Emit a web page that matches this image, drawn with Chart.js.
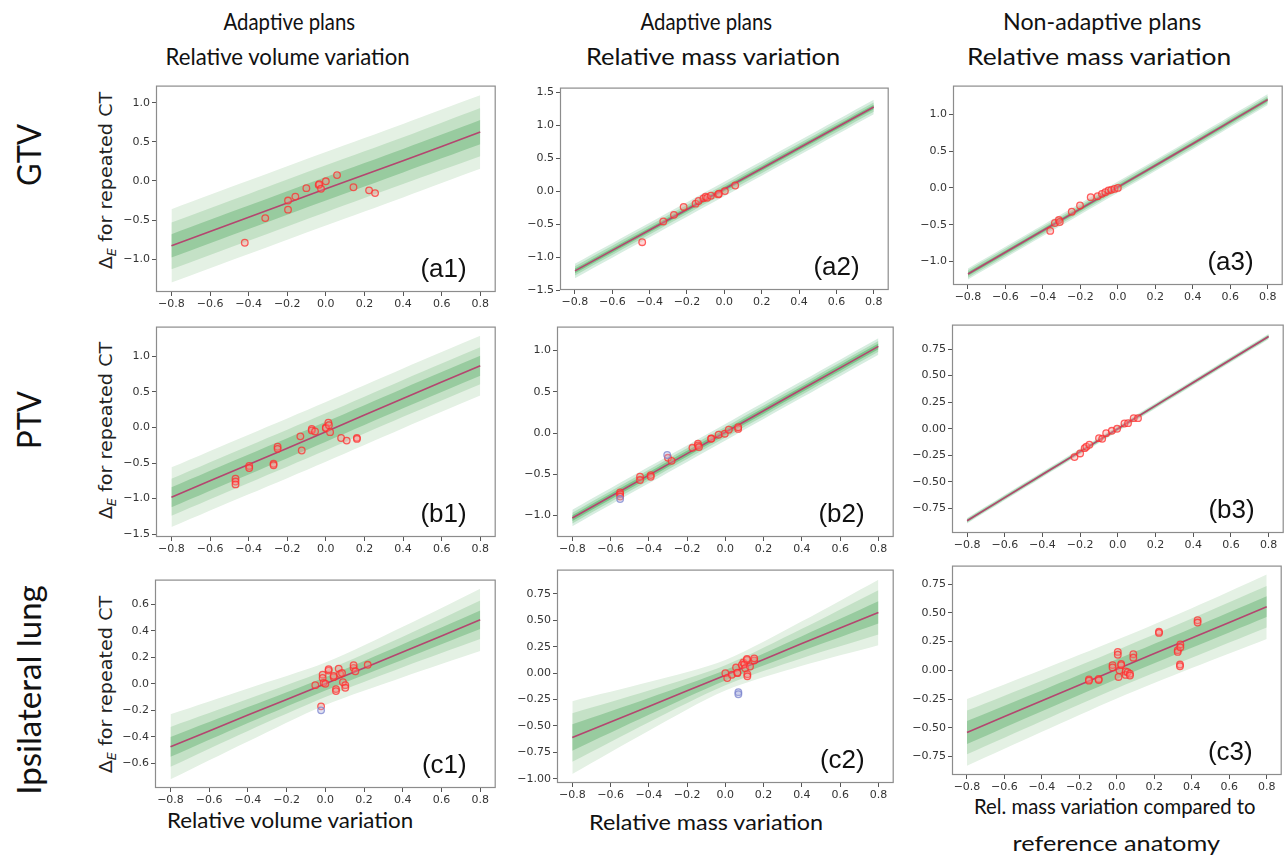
<!DOCTYPE html>
<html><head><meta charset="utf-8">
<script src="https://cdn.jsdelivr.net/npm/chart.js@4.4.1/dist/chart.umd.min.js"></script>
<style>
html,body{margin:0;padding:0;background:#fff;}
body{width:1287px;height:859px;position:relative;overflow:hidden;}
.t{position:absolute;white-space:nowrap;color:#111;font-family:Lato,"Noto Sans",sans-serif;line-height:1;}
.yt{position:absolute;white-space:nowrap;color:#222;font-family:"DejaVu Sans",sans-serif;font-size:18px;line-height:1;}
.yt sub{font-size:12px;font-style:italic;vertical-align:-4px;}
canvas{position:absolute;}
</style></head><body>
<script>
// ---------- shared ----------
const xTicks = [-0.8,-0.6,-0.4,-0.2,0,0.2,0.4,0.6,0.8];
const bandX = [-0.8,-0.4,0,0.4,0.8];

// ---------- (a1) GTV, adaptive, volume ----------
const a1YTicks = [-1.0,-0.5,0,0.5,1.0];
const a1Fit = [-0.83,-0.465,-0.10,0.26,0.625];
const a1Inner = [0.15,0.15,0.15,0.15,0.155];
const a1Mid = [0.30,0.30,0.30,0.30,0.31];
const a1Outer = [0.47,0.47,0.47,0.47,0.47];
const a1X = [-0.42,-0.314,-0.196,-0.196,-0.158,-0.101,-0.037,-0.034,-0.025,0.0,0.058,0.143,0.224,0.255];
const a1Y = [-0.79,-0.475,-0.25,-0.367,-0.20,-0.092,-0.05,-0.042,-0.10,-0.004,0.075,-0.08,-0.12,-0.155];

// ---------- (a2) GTV, adaptive, mass ----------
const a2YTicks = [-1.5,-1.0,-0.5,0,0.5,1.0,1.5];
const a2Fit = [-1.21,-0.589,0.032,0.653,1.275];
const a2Inner = [0.035,0.035,0.035,0.035,0.035];
const a2Mid = [0.07,0.07,0.07,0.07,0.07];
const a2Outer = [0.11,0.11,0.11,0.11,0.11];
const a2X = [-0.44,-0.327,-0.27,-0.218,-0.154,-0.138,-0.112,-0.10,-0.092,-0.072,-0.033,-0.029,0.003,0.058];
const a2Y = [-0.775,-0.46,-0.36,-0.24,-0.19,-0.15,-0.11,-0.085,-0.10,-0.07,-0.05,-0.04,0.0,0.085];

// ---------- (a3) GTV, non-adaptive, mass ----------
const a3YTicks = [-1.0,-0.5,0,0.5,1.0];
const a3Fit = [-1.17,-0.58,0.01,0.60,1.20];
const a3Inner = [0.025,0.025,0.025,0.025,0.025];
const a3Mid = [0.05,0.05,0.05,0.05,0.05];
const a3Outer = [0.075,0.075,0.075,0.075,0.075];
const a3X = [-0.361,-0.336,-0.315,-0.31,-0.246,-0.202,-0.145,-0.108,-0.085,-0.067,-0.05,-0.035,-0.018,0.0];
const a3Y = [-0.585,-0.477,-0.437,-0.464,-0.324,-0.239,-0.126,-0.113,-0.081,-0.059,-0.036,-0.027,-0.014,0.0];

// ---------- (b1) PTV, adaptive, volume ----------
const b1YTicks = [-1.5,-1.0,-0.5,0,0.5,1.0];
const b1Fit = [-0.98,-0.52,-0.06,0.41,0.87];
const b1Inner = [0.14,0.14,0.14,0.14,0.14];
const b1Mid = [0.26,0.26,0.26,0.26,0.26];
const b1Outer = [0.42,0.42,0.42,0.42,0.42];
const b1X = [-0.468,-0.468,-0.468,-0.397,-0.397,-0.271,-0.271,-0.25,-0.25,-0.132,-0.125,-0.073,-0.073,-0.056,0.0,0.0,0.013,0.016,0.022,0.079,0.108,0.161,0.161];
const b1Y = [-0.72,-0.76,-0.80,-0.54,-0.57,-0.51,-0.53,-0.27,-0.30,-0.124,-0.323,-0.02,-0.04,-0.055,0.0,-0.01,0.069,0.032,-0.065,-0.147,-0.184,-0.145,-0.16];

// ---------- (b2) PTV, adaptive, mass ----------
const b2YTicks = [-1.0,-0.5,0,0.5,1.0];
const b2Fit = [-1.03,-0.51,0.01,0.53,1.05];
const b2Inner = [0.035,0.035,0.035,0.035,0.035];
const b2Mid = [0.065,0.065,0.065,0.065,0.065];
const b2Outer = [0.10,0.10,0.10,0.10,0.10];
const b2X = [-0.55,-0.55,-0.55,-0.446,-0.446,-0.39,-0.39,-0.30,-0.281,-0.172,-0.143,-0.143,-0.138,-0.074,-0.074,-0.035,-0.003,0.018,0.067,0.067];
const b2Y = [-0.72,-0.74,-0.77,-0.53,-0.57,-0.51,-0.53,-0.30,-0.337,-0.179,-0.13,-0.15,-0.17,-0.065,-0.07,-0.02,-0.008,0.04,0.05,0.07];
const b2BlueX = [-0.55,-0.304];
const b2BlueY = [-0.80,-0.266];

// ---------- (b3) PTV, non-adaptive, mass ----------
const b3YTicks = [-0.75,-0.5,-0.25,0,0.25,0.5,0.75];
const b3Fit = [-0.865,-0.43,0.0,0.435,0.868];
const b3Inner = [0.01,0.01,0.01,0.01,0.01];
const b3Mid = [0.018,0.018,0.018,0.018,0.018];
const b3Outer = [0.026,0.026,0.026,0.026,0.026];
const b3X = [-0.23,-0.20,-0.176,-0.167,-0.151,-0.10,-0.083,-0.062,-0.032,-0.004,0.035,0.054,0.084,0.107];
const b3Y = [-0.266,-0.232,-0.182,-0.169,-0.15,-0.088,-0.094,-0.041,-0.019,0.0,0.05,0.053,0.10,0.10];

// ---------- (c1) lung, adaptive, volume ----------
const c1YTicks = [-0.6,-0.4,-0.2,0,0.2,0.4,0.6];
const c1Fit = [-0.475,-0.235,0.0,0.24,0.482];
const c1Inner = [0.075,0.06,0.05,0.058,0.07];
const c1Mid = [0.15,0.12,0.10,0.115,0.145];
const c1Outer = [0.245,0.20,0.16,0.19,0.235];
const c1X = [-0.052,-0.014,-0.014,-0.009,0.0,0.017,0.017,0.043,0.043,0.055,0.055,0.069,0.076,0.086,0.091,0.103,0.103,0.146,0.146,0.155,0.219,-0.022];
const c1Y = [-0.01,0.069,0.044,0.007,0.0,0.10,0.11,0.05,0.06,-0.04,-0.055,0.114,0.074,0.081,0.012,-0.01,-0.03,0.12,0.14,0.094,0.143,-0.17];
const c1BlueX = [-0.022];
const c1BlueY = [-0.20];

// ---------- (c2) lung, adaptive, mass ----------
const c2YTicks = [-1.0,-0.75,-0.5,-0.25,0,0.25,0.5,0.75];
const c2Fit = [-0.61,-0.315,-0.02,0.28,0.575];
const c2Inner = [0.125,0.08,0.05,0.07,0.105];
const c2Mid = [0.23,0.15,0.095,0.14,0.21];
const c2Outer = [0.345,0.23,0.145,0.21,0.31];
const c2X = [0.0,0.01,0.034,0.056,0.063,0.063,0.086,0.094,0.10,0.104,0.113,0.113,0.115,0.115,0.129,0.151,0.151];
const c2Y = [0.0,-0.047,-0.016,0.053,0.0,0.005,0.078,0.10,0.084,0.047,0.125,0.135,-0.01,-0.03,0.063,0.12,0.14];
const c2BlueX = [0.068,0.068];
const c2BlueY = [-0.18,-0.20];

// ---------- (c3) lung, non-adaptive, mass ----------
const c3YTicks = [-0.75,-0.5,-0.25,0,0.25,0.5,0.75];
const c3Fit = [-0.54,-0.265,0.01,0.28,0.553];
const c3Inner = [0.10,0.09,0.085,0.085,0.09];
const c3Mid = [0.19,0.175,0.165,0.17,0.18];
const c3Outer = [0.29,0.27,0.255,0.26,0.28];
const c3X = [-0.149,-0.149,-0.097,-0.097,0.005,0.005,-0.023,-0.023,0.009,0.014,0.023,0.023,0.047,0.047,0.058,0.07,0.07,0.088,0.088,0.225,0.225,0.325,0.325,0.339,0.339,0.337,0.337,0.431,0.431];
const c3Y = [-0.08,-0.09,-0.075,-0.085,0.16,0.135,0.045,0.025,-0.058,0.0,0.055,0.045,-0.01,-0.04,-0.017,-0.03,-0.045,0.14,0.11,0.335,0.325,0.175,0.16,0.225,0.20,0.05,0.035,0.435,0.415];
</script>

<div class="t" data-cx="289" data-cy="21" data-w="132" style="font-size:23px">Adaptive plans</div>
<div class="t" data-cx="287" data-cy="56" data-w="244" style="font-size:23px">Relative volume variation</div>
<div class="t" data-cx="706" data-cy="21" data-w="132" style="font-size:23px">Adaptive plans</div>
<div class="t" data-cx="713" data-cy="56" data-w="254" style="font-size:23px">Relative mass variation</div>
<div class="t" data-cx="1102" data-cy="21" data-w="198" style="font-size:23px">Non-adaptive plans</div>
<div class="t" data-cx="1099" data-cy="56" data-w="264" style="font-size:23px">Relative mass variation</div>

<div class="t" data-cx="29" data-cy="155" data-w="62" data-r="-90" style="font-size:32px">GTV</div>
<div class="t" data-cx="29" data-cy="420" data-w="58" data-r="-90" style="font-size:32px">PTV</div>
<div class="t" data-cx="29" data-cy="690" data-w="210" data-r="-90" style="font-size:32px">Ipsilateral lung</div>

<div class="yt" data-cx="107" data-cy="180" data-w="178" data-r="-90">Δ<sub>E</sub> for repeated CT</div>
<div class="yt" data-cx="107" data-cy="430" data-w="178" data-r="-90">Δ<sub>E</sub> for repeated CT</div>
<div class="yt" data-cx="107" data-cy="684" data-w="178" data-r="-90">Δ<sub>E</sub> for repeated CT</div>

<div class="t" data-cx="290" data-cy="820" data-w="246" style="font-size:22px">Relative volume variation</div>
<div class="t" data-cx="706" data-cy="822" data-w="234" style="font-size:22px">Relative mass variation</div>
<div class="t" data-cx="1115" data-cy="806" data-w="282" style="font-size:22px">Rel. mass variation compared to</div>
<div class="t" data-cx="1116" data-cy="843" data-w="208" style="font-size:22px">reference anatomy</div>

<script>
function fitTexts(){
  document.querySelectorAll('[data-cx]').forEach(el=>{
    const cx=+el.dataset.cx, cy=+el.dataset.cy, w=+el.dataset.w, r=+(el.dataset.r||0);
    el.style.transform='none';
    const ow=el.offsetWidth, oh=el.offsetHeight;
    const s=w/ow;
    el.style.left=(cx-ow/2)+'px';
    el.style.top=(cy-oh/2)+'px';
    el.style.transformOrigin='50% 50%';
    el.style.transform=(r?'rotate('+r+'deg) ':'')+'scaleX('+s+')';
  });
}
fitTexts();

function fmt(v,dec){
  const s=Math.abs(v).toFixed(dec);
  return (v<-1e-9?'\u2212':'')+s;
}

const framePlugin={
  id:'frame',
  afterDraw(chart){
    const a=chart.chartArea, c=chart.ctx;
    c.save();
    c.strokeStyle='#8c8c8c'; c.lineWidth=1.2;
    c.strokeRect(a.left+0.5,a.top+0.5,a.right-a.left-1,a.bottom-a.top-1);
    const lbl=chart.options.plugins.frame.label;
    c.fillStyle='#111';
    c.font='26px "Liberation Sans", Arial, sans-serif';
    c.textAlign='right'; c.textBaseline='alphabetic';
    c.fillText(lbl,a.right-29,a.bottom-15);
    c.restore();
  }
};

const COLORS={
  wide:{outer:'#e4f1e4',mid:'#c4e1c6',inner:'#98cb9f'},
  thin:{outer:'#d7ede0',mid:'#b0dcba',inner:'#7cc48b'}
};

function band(fit,hw,sign){ return bandX.map((x,i)=>({x:x,y:fit[i]+sign*hw[i]})); }
function pts(xs,ys){ return xs.map((x,i)=>({x:x,y:ys[i]})); }

function makePanel(p){
  const PADT=6, PADR=4, YW=44, XH=24;
  const cv=document.createElement('canvas');
  const w=p.box[2]-p.box[0]+YW+PADR, h=p.box[3]-p.box[1]+PADT+XH;
  cv.width=w; cv.height=h;
  cv.style.left=(p.box[0]-YW)+'px'; cv.style.top=(p.box[1]-PADT)+'px';
  cv.style.width=w+'px'; cv.style.height=h+'px';
  document.body.appendChild(cv);
  const col=COLORS[p.style];
  const lineDs=(data,o,extra)=>Object.assign({type:'line',data:data,pointRadius:0,borderWidth:0,tension:0.3,order:o,fill:false,borderColor:'rgba(0,0,0,0)'},extra||{});
  const ds=[
    lineDs(band(p.fit,p.outer,1),40,{fill:'+1',backgroundColor:col.outer}),
    lineDs(band(p.fit,p.outer,-1),41),
    lineDs(band(p.fit,p.mid,1),30,{fill:'+1',backgroundColor:col.mid}),
    lineDs(band(p.fit,p.mid,-1),31),
    lineDs(band(p.fit,p.inner,1),20,{fill:'+1',backgroundColor:col.inner}),
    lineDs(band(p.fit,p.inner,-1),21),
    lineDs(bandX.map((x,i)=>({x:x,y:p.fit[i]})),10,{borderWidth:1.6,borderColor:'#b4466f'}),
    {type:'scatter',data:pts(p.px,p.py),order:1,pointRadius:3.3,borderWidth:1.3,
     borderColor:'rgba(255,45,45,0.75)',backgroundColor:'rgba(255,140,140,0.35)'}
  ];
  if(p.bx) ds.push({type:'scatter',data:pts(p.bx,p.by),order:0,pointRadius:3.3,borderWidth:1.3,
     borderColor:'rgba(120,130,205,0.75)',backgroundColor:'rgba(170,175,220,0.35)'});
  new Chart(cv,{
    data:{datasets:ds},
    options:{
      responsive:false,animation:false,devicePixelRatio:1,
      layout:{padding:{top:PADT,right:PADR,left:0,bottom:0}},
      plugins:{legend:{display:false},tooltip:{enabled:false},frame:{label:p.label}},
      scales:{
        x:{type:'linear',min:-0.88,max:0.88,
           afterFit:s=>{s.height=XH;},
           afterBuildTicks:s=>{s.ticks=xTicks.map(v=>({value:v}));},
           ticks:{font:{family:'DejaVu Sans',size:11},color:'#333',padding:2,maxRotation:0,autoSkip:false,callback:v=>fmt(v,1)},
           grid:{drawOnChartArea:false,drawTicks:true,tickLength:4,color:'#555'},border:{display:false}},
        y:{type:'linear',min:p.ymin,max:p.ymax,
           afterFit:s=>{s.width=YW;},
           afterBuildTicks:s=>{s.ticks=p.yticks.map(v=>({value:v}));},
           ticks:{font:{family:'DejaVu Sans',size:11},color:'#333',padding:2,autoSkip:false,callback:v=>fmt(v,p.dec)},
           grid:{drawOnChartArea:false,drawTicks:true,tickLength:4,color:'#555'},border:{display:false}}
      }
    },
    plugins:[framePlugin]
  });
}

const panels=[
  {label:'(a1)',box:[156,83,497,292],ymin:-1.42,ymax:1.22,yticks:a1YTicks,dec:1,fit:a1Fit,inner:a1Inner,mid:a1Mid,outer:a1Outer,px:a1X,py:a1Y,style:'wide'},
  {label:'(a2)',box:[560,85,890,290],ymin:-1.5,ymax:1.57,yticks:a2YTicks,dec:1,fit:a2Fit,inner:a2Inner,mid:a2Mid,outer:a2Outer,px:a2X,py:a2Y,style:'thin'},
  {label:'(a3)',box:[953,83,1284,285],ymin:-1.32,ymax:1.39,yticks:a3YTicks,dec:1,fit:a3Fit,inner:a3Inner,mid:a3Mid,outer:a3Outer,px:a3X,py:a3Y,style:'thin'},
  {label:'(b1)',box:[156,324,497,537],ymin:-1.54,ymax:1.42,yticks:b1YTicks,dec:1,fit:b1Fit,inner:b1Inner,mid:b1Mid,outer:b1Outer,px:b1X,py:b1Y,style:'wide'},
  {label:'(b2)',box:[557,324,895,537],ymin:-1.26,ymax:1.29,yticks:b2YTicks,dec:1,fit:b2Fit,inner:b2Inner,mid:b2Mid,outer:b2Outer,px:b2X,py:b2Y,bx:b2BlueX,by:b2BlueY,style:'thin'},
  {label:'(b3)',box:[952,322,1285,533],ymin:-0.98,ymax:0.98,yticks:b3YTicks,dec:2,fit:b3Fit,inner:b3Inner,mid:b3Mid,outer:b3Outer,px:b3X,py:b3Y,style:'thin'},
  {label:'(c1)',box:[155,577,497,788],ymin:-0.785,ymax:0.785,yticks:c1YTicks,dec:1,fit:c1Fit,inner:c1Inner,mid:c1Mid,outer:c1Outer,px:c1X,py:c1Y,bx:c1BlueX,by:c1BlueY,style:'wide'},
  {label:'(c2)',box:[557,567,895,783],ymin:-1.04,ymax:0.98,yticks:c2YTicks,dec:2,fit:c2Fit,inner:c2Inner,mid:c2Mid,outer:c2Outer,px:c2X,py:c2Y,bx:c2BlueX,by:c2BlueY,style:'wide'},
  {label:'(c3)',box:[952,563,1283,775],ymin:-0.91,ymax:0.91,yticks:c3YTicks,dec:2,fit:c3Fit,inner:c3Inner,mid:c3Mid,outer:c3Outer,px:c3X,py:c3Y,style:'wide'}
];
panels.forEach(makePanel);
</script>
</body></html>
